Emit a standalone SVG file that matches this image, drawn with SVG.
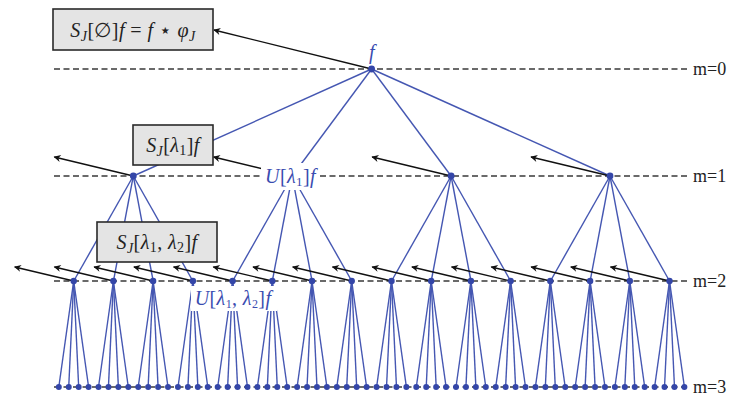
<svg xmlns="http://www.w3.org/2000/svg" xmlns:xlink="http://www.w3.org/1999/xlink" width="735" height="396" viewBox="0 0 735 396">
<style>
.lvl{stroke:#3a3a3a;stroke-width:1.4;stroke-dasharray:6 3.5;fill:none}
.edge{stroke:#4557b2;stroke-width:1.4;fill:none}
.arr{stroke:#111;stroke-width:1.4;fill:none;marker-end:url(#ah)}
.dot{fill:#3446a8}
.box{fill:#e4e4e4;stroke:#2a2a2a;stroke-width:1.6}
.mt{font-family:"Liberation Serif","DejaVu Serif",serif;font-size:20px;fill:#222;letter-spacing:0.4px}
.it{font-style:italic}
.bl{fill:#3a4cb0}
.ml{font-family:"Liberation Serif","DejaVu Serif",serif;font-size:18px;fill:#222}
</style>
<defs>
<marker id="ah" viewBox="0 0 10 10" refX="9" refY="5" markerWidth="9" markerHeight="7" markerUnits="userSpaceOnUse" orient="auto">
<path d="M0,0 L10,5 L0,10 L3,5 z" fill="#111"/>
</marker>
<g id="fan1" class="edge">
<line x1="0" y1="0" x2="-59.55" y2="105"/><line x1="0" y1="0" x2="-19.85" y2="105"/><line x1="0" y1="0" x2="19.85" y2="105"/><line x1="0" y1="0" x2="59.55" y2="105"/>
</g>
<g id="fan2" class="edge">
<line x1="0" y1="0" x2="-14.9" y2="106"/><line x1="0" y1="0" x2="-4.97" y2="106"/><line x1="0" y1="0" x2="4.97" y2="106"/><line x1="0" y1="0" x2="14.9" y2="106"/>
</g>
</defs>
<rect width="735" height="396" fill="#fff"/>
<g id="levels">
<line class="lvl" x1="54" y1="69" x2="688" y2="69"/>
<line class="lvl" x1="54" y1="176" x2="688" y2="176"/>
<line class="lvl" x1="54" y1="281" x2="688" y2="281"/>
<line class="lvl" x1="54" y1="387" x2="688" y2="387"/>
<text class="ml" x="693" y="75">m=0</text>
<text class="ml" x="693" y="182">m=1</text>
<text class="ml" x="693" y="287">m=2</text>
<text class="ml" x="693" y="393">m=3</text>
</g>
<g id="connectors">
<g class="edge">
<line x1="371.6" y1="69" x2="133.3" y2="176"/>
<line x1="371.6" y1="69" x2="292.2" y2="176"/>
<line x1="371.6" y1="69" x2="451.1" y2="176"/>
<line x1="371.6" y1="69" x2="610" y2="176"/>
</g>
<use href="#fan1" x="133.3" y="176"/><use href="#fan1" x="292.2" y="176"/><use href="#fan1" x="451.1" y="176"/><use href="#fan1" x="610" y="176"/>
<use href="#fan2" x="73.7" y="281"/><use href="#fan2" x="113.4" y="281"/><use href="#fan2" x="153.1" y="281"/><use href="#fan2" x="192.9" y="281"/>
<use href="#fan2" x="232.6" y="281"/><use href="#fan2" x="272.3" y="281"/><use href="#fan2" x="312" y="281"/><use href="#fan2" x="351.7" y="281"/>
<use href="#fan2" x="391.5" y="281"/><use href="#fan2" x="431.2" y="281"/><use href="#fan2" x="470.9" y="281"/><use href="#fan2" x="510.6" y="281"/>
<use href="#fan2" x="550.3" y="281"/><use href="#fan2" x="590.1" y="281"/><use href="#fan2" x="629.8" y="281"/><use href="#fan2" x="669.5" y="281"/>
<line class="arr" x1="371.6" y1="69" x2="214" y2="30"/>
<line class="arr" x1="133.3" y1="176" x2="54.3" y2="157"/>
<line class="arr" x1="292.2" y1="176" x2="213.6" y2="157"/>
<line class="arr" x1="451.1" y1="176" x2="372.1" y2="157"/>
<line class="arr" x1="610" y1="176" x2="531" y2="157"/>
<line class="arr" x1="73.7" y1="281" x2="14.7" y2="267"/>
<line class="arr" x1="113.4" y1="281" x2="54.4" y2="267"/>
<line class="arr" x1="153.1" y1="281" x2="94.1" y2="267"/>
<line class="arr" x1="192.9" y1="281" x2="133.9" y2="267"/>
<line class="arr" x1="232.6" y1="281" x2="173.6" y2="267"/>
<line class="arr" x1="272.3" y1="281" x2="213.3" y2="267"/>
<line class="arr" x1="312" y1="281" x2="253" y2="267"/>
<line class="arr" x1="351.7" y1="281" x2="292.7" y2="267"/>
<line class="arr" x1="391.5" y1="281" x2="332.5" y2="267"/>
<line class="arr" x1="431.2" y1="281" x2="372.2" y2="267"/>
<line class="arr" x1="470.9" y1="281" x2="411.9" y2="267"/>
<line class="arr" x1="510.6" y1="281" x2="451.6" y2="267"/>
<line class="arr" x1="550.3" y1="281" x2="491.3" y2="267"/>
<line class="arr" x1="590.1" y1="281" x2="531.1" y2="267"/>
<line class="arr" x1="629.8" y1="281" x2="570.8" y2="267"/>
<line class="arr" x1="669.5" y1="281" x2="610.5" y2="267"/>
</g>
<g id="root"><circle class="dot" cx="371.6" cy="69" r="3.4"/><text class="mt it bl" x="372" y="59" text-anchor="middle" font-size="19">f</text></g>
<g id="n1-0"><circle class="dot" cx="133.3" cy="176" r="3.4"/></g>
<g id="n1-1"><rect x="261" y="163" width="59" height="27" fill="#fff"/><text class="mt bl" x="290.5" y="183" text-anchor="middle" font-size="19"><tspan class="it">U</tspan>[<tspan class="it">λ</tspan><tspan dy="3" font-size="13">1</tspan><tspan dy="-3">]</tspan><tspan class="it">f</tspan></text></g>
<g id="n1-2"><circle class="dot" cx="451.1" cy="176" r="3.4"/></g>
<g id="n1-3"><circle class="dot" cx="610" cy="176" r="3.4"/></g>
<g id="n2-0"><circle class="dot" cx="73.7" cy="281" r="3.2"/></g>
<g id="n2-1"><circle class="dot" cx="113.4" cy="281" r="3.2"/></g>
<g id="n2-2"><circle class="dot" cx="153.1" cy="281" r="3.2"/></g>
<g id="n2-3"><circle class="dot" cx="192.9" cy="281" r="3.2"/></g>
<g id="n2-4"><circle class="dot" cx="232.6" cy="281" r="3.2"/><rect x="191" y="286" width="86" height="25" fill="#fff"/><text class="mt bl" x="233" y="305" text-anchor="middle" font-size="17"><tspan class="it">U</tspan>[<tspan class="it">λ</tspan><tspan dy="3" font-size="12">1</tspan><tspan dy="-3">, </tspan><tspan class="it">λ</tspan><tspan dy="3" font-size="12">2</tspan><tspan dy="-3">]</tspan><tspan class="it">f</tspan></text></g>
<g id="n2-5"><circle class="dot" cx="272.3" cy="281" r="3.2"/></g>
<g id="n2-6"><circle class="dot" cx="312" cy="281" r="3.2"/></g>
<g id="n2-7"><circle class="dot" cx="351.7" cy="281" r="3.2"/></g>
<g id="n2-8"><circle class="dot" cx="391.5" cy="281" r="3.2"/></g>
<g id="n2-9"><circle class="dot" cx="431.2" cy="281" r="3.2"/></g>
<g id="n2-10"><circle class="dot" cx="470.9" cy="281" r="3.2"/></g>
<g id="n2-11"><circle class="dot" cx="510.6" cy="281" r="3.2"/></g>
<g id="n2-12"><circle class="dot" cx="550.3" cy="281" r="3.2"/></g>
<g id="n2-13"><circle class="dot" cx="590.1" cy="281" r="3.2"/></g>
<g id="n2-14"><circle class="dot" cx="629.8" cy="281" r="3.2"/></g>
<g id="n2-15"><circle class="dot" cx="669.5" cy="281" r="3.2"/></g>
<g id="n3-0"><circle class="dot" cx="58.8" cy="387" r="3"/></g>
<g id="n3-1"><circle class="dot" cx="68.73" cy="387" r="3"/></g>
<g id="n3-2"><circle class="dot" cx="78.66" cy="387" r="3"/></g>
<g id="n3-3"><circle class="dot" cx="88.59" cy="387" r="3"/></g>
<g id="n3-4"><circle class="dot" cx="98.52" cy="387" r="3"/></g>
<g id="n3-5"><circle class="dot" cx="108.45" cy="387" r="3"/></g>
<g id="n3-6"><circle class="dot" cx="118.38" cy="387" r="3"/></g>
<g id="n3-7"><circle class="dot" cx="128.31" cy="387" r="3"/></g>
<g id="n3-8"><circle class="dot" cx="138.24" cy="387" r="3"/></g>
<g id="n3-9"><circle class="dot" cx="148.17" cy="387" r="3"/></g>
<g id="n3-10"><circle class="dot" cx="158.1" cy="387" r="3"/></g>
<g id="n3-11"><circle class="dot" cx="168.03" cy="387" r="3"/></g>
<g id="n3-12"><circle class="dot" cx="177.96" cy="387" r="3"/></g>
<g id="n3-13"><circle class="dot" cx="187.89" cy="387" r="3"/></g>
<g id="n3-14"><circle class="dot" cx="197.82" cy="387" r="3"/></g>
<g id="n3-15"><circle class="dot" cx="207.75" cy="387" r="3"/></g>
<g id="n3-16"><circle class="dot" cx="217.68" cy="387" r="3"/></g>
<g id="n3-17"><circle class="dot" cx="227.61" cy="387" r="3"/></g>
<g id="n3-18"><circle class="dot" cx="237.54" cy="387" r="3"/></g>
<g id="n3-19"><circle class="dot" cx="247.47" cy="387" r="3"/></g>
<g id="n3-20"><circle class="dot" cx="257.4" cy="387" r="3"/></g>
<g id="n3-21"><circle class="dot" cx="267.33" cy="387" r="3"/></g>
<g id="n3-22"><circle class="dot" cx="277.26" cy="387" r="3"/></g>
<g id="n3-23"><circle class="dot" cx="287.19" cy="387" r="3"/></g>
<g id="n3-24"><circle class="dot" cx="297.12" cy="387" r="3"/></g>
<g id="n3-25"><circle class="dot" cx="307.05" cy="387" r="3"/></g>
<g id="n3-26"><circle class="dot" cx="316.98" cy="387" r="3"/></g>
<g id="n3-27"><circle class="dot" cx="326.91" cy="387" r="3"/></g>
<g id="n3-28"><circle class="dot" cx="336.84" cy="387" r="3"/></g>
<g id="n3-29"><circle class="dot" cx="346.77" cy="387" r="3"/></g>
<g id="n3-30"><circle class="dot" cx="356.7" cy="387" r="3"/></g>
<g id="n3-31"><circle class="dot" cx="366.63" cy="387" r="3"/></g>
<g id="n3-32"><circle class="dot" cx="376.56" cy="387" r="3"/></g>
<g id="n3-33"><circle class="dot" cx="386.49" cy="387" r="3"/></g>
<g id="n3-34"><circle class="dot" cx="396.42" cy="387" r="3"/></g>
<g id="n3-35"><circle class="dot" cx="406.35" cy="387" r="3"/></g>
<g id="n3-36"><circle class="dot" cx="416.28" cy="387" r="3"/></g>
<g id="n3-37"><circle class="dot" cx="426.21" cy="387" r="3"/></g>
<g id="n3-38"><circle class="dot" cx="436.14" cy="387" r="3"/></g>
<g id="n3-39"><circle class="dot" cx="446.07" cy="387" r="3"/></g>
<g id="n3-40"><circle class="dot" cx="456" cy="387" r="3"/></g>
<g id="n3-41"><circle class="dot" cx="465.93" cy="387" r="3"/></g>
<g id="n3-42"><circle class="dot" cx="475.86" cy="387" r="3"/></g>
<g id="n3-43"><circle class="dot" cx="485.79" cy="387" r="3"/></g>
<g id="n3-44"><circle class="dot" cx="495.72" cy="387" r="3"/></g>
<g id="n3-45"><circle class="dot" cx="505.65" cy="387" r="3"/></g>
<g id="n3-46"><circle class="dot" cx="515.58" cy="387" r="3"/></g>
<g id="n3-47"><circle class="dot" cx="525.51" cy="387" r="3"/></g>
<g id="n3-48"><circle class="dot" cx="535.44" cy="387" r="3"/></g>
<g id="n3-49"><circle class="dot" cx="545.37" cy="387" r="3"/></g>
<g id="n3-50"><circle class="dot" cx="555.3" cy="387" r="3"/></g>
<g id="n3-51"><circle class="dot" cx="565.23" cy="387" r="3"/></g>
<g id="n3-52"><circle class="dot" cx="575.16" cy="387" r="3"/></g>
<g id="n3-53"><circle class="dot" cx="585.09" cy="387" r="3"/></g>
<g id="n3-54"><circle class="dot" cx="595.02" cy="387" r="3"/></g>
<g id="n3-55"><circle class="dot" cx="604.95" cy="387" r="3"/></g>
<g id="n3-56"><circle class="dot" cx="614.88" cy="387" r="3"/></g>
<g id="n3-57"><circle class="dot" cx="624.81" cy="387" r="3"/></g>
<g id="n3-58"><circle class="dot" cx="634.74" cy="387" r="3"/></g>
<g id="n3-59"><circle class="dot" cx="644.67" cy="387" r="3"/></g>
<g id="n3-60"><circle class="dot" cx="654.6" cy="387" r="3"/></g>
<g id="n3-61"><circle class="dot" cx="664.53" cy="387" r="3"/></g>
<g id="n3-62"><circle class="dot" cx="674.46" cy="387" r="3"/></g>
<g id="n3-63"><circle class="dot" cx="684.39" cy="387" r="3"/></g>
<g id="box-s0"><rect class="box" x="53" y="9" width="160" height="41"/><text class="mt" x="133" y="37" text-anchor="middle"><tspan class="it">S</tspan><tspan class="it" dy="4" font-size="14">J</tspan><tspan dy="-4">[∅]</tspan><tspan class="it">f</tspan> = <tspan class="it">f</tspan> ⋆ <tspan class="it">φ</tspan><tspan class="it" dy="4" font-size="14">J</tspan></text></g>
<g id="box-s1"><rect class="box" x="133" y="125" width="80" height="40"/><text class="mt" x="173" y="152" text-anchor="middle"><tspan class="it">S</tspan><tspan class="it" dy="4" font-size="14">J</tspan><tspan dy="-4">[</tspan><tspan class="it">λ</tspan><tspan dy="3" font-size="14">1</tspan><tspan dy="-3">]</tspan><tspan class="it">f</tspan></text></g>
<g id="box-s2"><rect class="box" x="97" y="222" width="120" height="40"/><text class="mt" x="157" y="249" text-anchor="middle"><tspan class="it">S</tspan><tspan class="it" dy="4" font-size="14">J</tspan><tspan dy="-4">[</tspan><tspan class="it">λ</tspan><tspan dy="3" font-size="14">1</tspan><tspan dy="-3">, </tspan><tspan class="it">λ</tspan><tspan dy="3" font-size="14">2</tspan><tspan dy="-3">]</tspan><tspan class="it">f</tspan></text></g>
</svg>
